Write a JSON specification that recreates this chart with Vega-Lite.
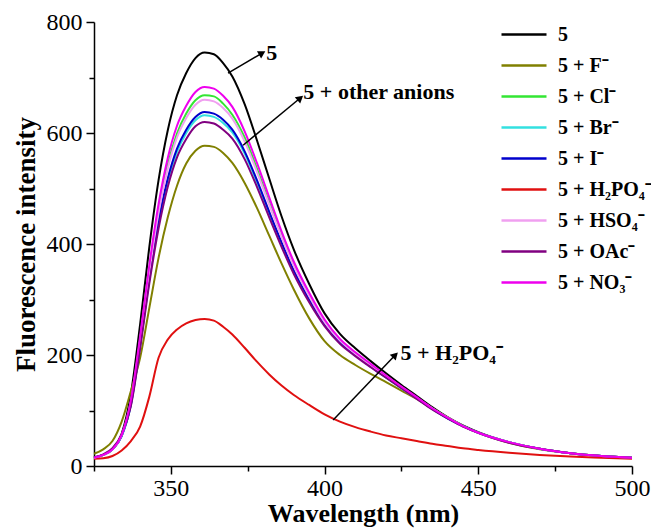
{
  "$schema": "https://vega.github.io/schema/vega-lite/v6.json",
  "width": 538,
  "height": 444,
  "autosize": {"type": "none"},
  "padding": {"left": 94, "top": 22, "right": 19, "bottom": 63},
  "background": "white",
  "config": {
    "view": {"stroke": null},
    "font": "Liberation Serif",
    "axis": {"labelFont": "Liberation Serif", "titleFont": "Liberation Serif"},
    "legend": {"labelFont": "Liberation Serif"},
    "text": {"font": "Liberation Serif"}
  },
  "datasets": {
    "spectra": [
      {"wl":325,"5":15,"5 + F⁻":22,"5 + Cl⁻":15,"5 + Br⁻":15,"5 + I⁻":15,"5 + H₂PO₄⁻":13,"5 + HSO₄⁻":15,"5 + OAc⁻":16,"5 + NO₃⁻":15},
      {"wl":328,"5":20,"5 + F⁻":30,"5 + Cl⁻":20,"5 + Br⁻":20,"5 + I⁻":20,"5 + H₂PO₄⁻":14,"5 + HSO₄⁻":20,"5 + OAc⁻":21,"5 + NO₃⁻":20},
      {"wl":331,"5":30,"5 + F⁻":45,"5 + Cl⁻":30,"5 + Br⁻":30,"5 + I⁻":30,"5 + H₂PO₄⁻":18,"5 + HSO₄⁻":30,"5 + OAc⁻":32,"5 + NO₃⁻":30},
      {"wl":334,"5":58,"5 + F⁻":80,"5 + Cl⁻":55,"5 + Br⁻":54,"5 + I⁻":54,"5 + H₂PO₄⁻":28,"5 + HSO₄⁻":55,"5 + OAc⁻":57,"5 + NO₃⁻":56},
      {"wl":337,"5":130,"5 + F⁻":135,"5 + Cl⁻":117,"5 + Br⁻":110,"5 + I⁻":111,"5 + H₂PO₄⁻":45,"5 + HSO₄⁻":115,"5 + OAc⁻":108,"5 + NO₃⁻":119},
      {"wl":340,"5":255,"5 + F⁻":195,"5 + Cl⁻":229,"5 + Br⁻":216,"5 + I⁻":218,"5 + H₂PO₄⁻":71,"5 + HSO₄⁻":226,"5 + OAc⁻":212,"5 + NO₃⁻":234},
      {"wl":343,"5":395,"5 + F⁻":285,"5 + Cl⁻":354,"5 + Br⁻":335,"5 + I⁻":338,"5 + H₂PO₄⁻":125,"5 + HSO₄⁻":350,"5 + OAc⁻":329,"5 + NO₃⁻":362},
      {"wl":346,"5":515,"5 + F⁻":375,"5 + Cl⁻":462,"5 + Br⁻":437,"5 + I⁻":441,"5 + H₂PO₄⁻":195,"5 + HSO₄⁻":456,"5 + OAc⁻":428,"5 + NO₃⁻":472},
      {"wl":349,"5":605,"5 + F⁻":448,"5 + Cl⁻":543,"5 + Br⁻":513,"5 + I⁻":518,"5 + H₂PO₄⁻":228,"5 + HSO₄⁻":536,"5 + OAc⁻":503,"5 + NO₃⁻":555},
      {"wl":352,"5":668,"5 + F⁻":505,"5 + Cl⁻":599,"5 + Br⁻":566,"5 + I⁻":572,"5 + H₂PO₄⁻":246,"5 + HSO₄⁻":592,"5 + OAc⁻":556,"5 + NO₃⁻":613},
      {"wl":355,"5":708,"5 + F⁻":545,"5 + Cl⁻":635,"5 + Br⁻":600,"5 + I⁻":606,"5 + H₂PO₄⁻":257,"5 + HSO₄⁻":627,"5 + OAc⁻":589,"5 + NO₃⁻":649},
      {"wl":358,"5":735,"5 + F⁻":568,"5 + Cl⁻":659,"5 + Br⁻":623,"5 + I⁻":629,"5 + H₂PO₄⁻":263,"5 + HSO₄⁻":651,"5 + OAc⁻":612,"5 + NO₃⁻":674},
      {"wl":361,"5":745,"5 + F⁻":577,"5 + Cl⁻":668,"5 + Br⁻":632,"5 + I⁻":638,"5 + H₂PO₄⁻":265,"5 + HSO₄⁻":660,"5 + OAc⁻":620,"5 + NO₃⁻":683},
      {"wl":364,"5":742,"5 + F⁻":575,"5 + Cl⁻":666,"5 + Br⁻":629,"5 + I⁻":635,"5 + H₂PO₄⁻":262,"5 + HSO₄⁻":657,"5 + OAc⁻":617,"5 + NO₃⁻":680},
      {"wl":367,"5":726,"5 + F⁻":564,"5 + Cl⁻":653,"5 + Br⁻":618,"5 + I⁻":624,"5 + H₂PO₄⁻":251,"5 + HSO₄⁻":645,"5 + OAc⁻":606,"5 + NO₃⁻":667},
      {"wl":370,"5":702,"5 + F⁻":546,"5 + Cl⁻":633,"5 + Br⁻":601,"5 + I⁻":606,"5 + H₂PO₄⁻":237,"5 + HSO₄⁻":626,"5 + OAc⁻":590,"5 + NO₃⁻":647},
      {"wl":374,"5":652,"5 + F⁻":510,"5 + Cl⁻":592,"5 + Br⁻":563,"5 + I⁻":567,"5 + H₂PO₄⁻":213,"5 + HSO₄⁻":585,"5 + OAc⁻":553,"5 + NO₃⁻":603},
      {"wl":378,"5":587,"5 + F⁻":465,"5 + Cl⁻":536,"5 + Br⁻":511,"5 + I⁻":515,"5 + H₂PO₄⁻":188,"5 + HSO₄⁻":530,"5 + OAc⁻":503,"5 + NO₃⁻":546},
      {"wl":382,"5":518,"5 + F⁻":415,"5 + Cl⁻":475,"5 + Br⁻":455,"5 + I⁻":458,"5 + H₂PO₄⁻":165,"5 + HSO₄⁻":471,"5 + OAc⁻":448,"5 + NO₃⁻":484},
      {"wl":386,"5":450,"5 + F⁻":365,"5 + Cl⁻":416,"5 + Br⁻":400,"5 + I⁻":403,"5 + H₂PO₄⁻":145,"5 + HSO₄⁻":413,"5 + OAc⁻":395,"5 + NO₃⁻":423},
      {"wl":390,"5":390,"5 + F⁻":318,"5 + Cl⁻":363,"5 + Br⁻":350,"5 + I⁻":352,"5 + H₂PO₄⁻":128,"5 + HSO₄⁻":360,"5 + OAc⁻":346,"5 + NO₃⁻":368},
      {"wl":395,"5":328,"5 + F⁻":266,"5 + Cl⁻":308,"5 + Br⁻":298,"5 + I⁻":300,"5 + H₂PO₄⁻":110,"5 + HSO₄⁻":306,"5 + OAc⁻":295,"5 + NO₃⁻":312},
      {"wl":400,"5":275,"5 + F⁻":225,"5 + Cl⁻":261,"5 + Br⁻":254,"5 + I⁻":255,"5 + H₂PO₄⁻":93,"5 + HSO₄⁻":259,"5 + OAc⁻":252,"5 + NO₃⁻":264},
      {"wl":405,"5":238,"5 + F⁻":200,"5 + Cl⁻":227,"5 + Br⁻":222,"5 + I⁻":223,"5 + H₂PO₄⁻":80,"5 + HSO₄⁻":226,"5 + OAc⁻":220,"5 + NO₃⁻":229},
      {"wl":410,"5":212,"5 + F⁻":182,"5 + Cl⁻":203,"5 + Br⁻":199,"5 + I⁻":200,"5 + H₂PO₄⁻":70,"5 + HSO₄⁻":202,"5 + OAc⁻":198,"5 + NO₃⁻":205},
      {"wl":415,"5":189,"5 + F⁻":166,"5 + Cl⁻":182,"5 + Br⁻":179,"5 + I⁻":179,"5 + H₂PO₄⁻":62,"5 + HSO₄⁻":181,"5 + OAc⁻":178,"5 + NO₃⁻":184},
      {"wl":420,"5":167,"5 + F⁻":151,"5 + Cl⁻":162,"5 + Br⁻":159,"5 + I⁻":160,"5 + H₂PO₄⁻":55,"5 + HSO₄⁻":161,"5 + OAc⁻":159,"5 + NO₃⁻":163},
      {"wl":425,"5":146,"5 + F⁻":136,"5 + Cl⁻":142,"5 + Br⁻":140,"5 + I⁻":141,"5 + H₂PO₄⁻":50,"5 + HSO₄⁻":142,"5 + OAc⁻":140,"5 + NO₃⁻":143},
      {"wl":430,"5":126,"5 + F⁻":121,"5 + Cl⁻":123,"5 + Br⁻":122,"5 + I⁻":122,"5 + H₂PO₄⁻":45,"5 + HSO₄⁻":123,"5 + OAc⁻":121,"5 + NO₃⁻":124},
      {"wl":435,"5":106,"5 + F⁻":104,"5 + Cl⁻":104,"5 + Br⁻":103,"5 + I⁻":103,"5 + H₂PO₄⁻":40,"5 + HSO₄⁻":104,"5 + OAc⁻":102,"5 + NO₃⁻":104},
      {"wl":440,"5":88,"5 + F⁻":87,"5 + Cl⁻":87,"5 + Br⁻":86,"5 + I⁻":86,"5 + H₂PO₄⁻":36,"5 + HSO₄⁻":87,"5 + OAc⁻":86,"5 + NO₃⁻":87},
      {"wl":445,"5":73,"5 + F⁻":72,"5 + Cl⁻":72,"5 + Br⁻":72,"5 + I⁻":72,"5 + H₂PO₄⁻":32,"5 + HSO₄⁻":72,"5 + OAc⁻":71,"5 + NO₃⁻":72},
      {"wl":450,"5":61,"5 + F⁻":60,"5 + Cl⁻":60,"5 + Br⁻":60,"5 + I⁻":60,"5 + H₂PO₄⁻":29,"5 + HSO₄⁻":60,"5 + OAc⁻":60,"5 + NO₃⁻":60},
      {"wl":460,"5":43,"5 + F⁻":42,"5 + Cl⁻":43,"5 + Br⁻":43,"5 + I⁻":43,"5 + H₂PO₄⁻":24,"5 + HSO₄⁻":43,"5 + OAc⁻":42,"5 + NO₃⁻":43},
      {"wl":470,"5":31,"5 + F⁻":30,"5 + Cl⁻":31,"5 + Br⁻":31,"5 + I⁻":31,"5 + H₂PO₄⁻":20,"5 + HSO₄⁻":31,"5 + OAc⁻":31,"5 + NO₃⁻":31},
      {"wl":480,"5":23,"5 + F⁻":23,"5 + Cl⁻":23,"5 + Br⁻":23,"5 + I⁻":23,"5 + H₂PO₄⁻":17,"5 + HSO₄⁻":23,"5 + OAc⁻":23,"5 + NO₃⁻":23},
      {"wl":490,"5":18,"5 + F⁻":18,"5 + Cl⁻":18,"5 + Br⁻":18,"5 + I⁻":18,"5 + H₂PO₄⁻":15,"5 + HSO₄⁻":18,"5 + OAc⁻":18,"5 + NO₃⁻":18},
      {"wl":500,"5":15,"5 + F⁻":15,"5 + Cl⁻":15,"5 + Br⁻":15,"5 + I⁻":15,"5 + H₂PO₄⁻":13,"5 + HSO₄⁻":15,"5 + OAc⁻":15,"5 + NO₃⁻":15}
    ],
    "arrows": [
      {"id": "a", "x": 368.6, "y": 708, "x2": 379.7, "y2": 744},
      {"id": "b", "x": 373.5, "y": 578, "x2": 392.1, "y2": 663},
      {"id": "c", "x": 402.8, "y": 83, "x2": 423, "y2": 200}
    ],
    "labels": [
      {"x": 381, "y": 744, "t": "5"},
      {"x": 393.1, "y": 674, "t": "5 + other anions"},
      {"x": 424.7, "y": 204, "t": "5 + H₂PO₄⁻"}
    ]
  },
  "layer": [
    {
      "data": {"name": "spectra"},
      "transform": [
        {"fold": ["5", "5 + F⁻", "5 + Cl⁻", "5 + Br⁻", "5 + I⁻", "5 + H₂PO₄⁻", "5 + HSO₄⁻", "5 + OAc⁻", "5 + NO₃⁻"], "as": ["series", "intensity"]}
      ],
      "mark": {"type": "line", "interpolate": "monotone", "strokeWidth": 2},
      "encoding": {
        "x": {
          "field": "wl", "type": "quantitative",
          "scale": {"domain": [325, 500], "nice": false, "zero": false},
          "axis": {
            "title": "Wavelength (nm)",
            "values": [325, 350, 375, 400, 425, 450, 475, 500],
            "labelExpr": "datum.value % 50 === 0 ? datum.label : ''",
            "tickSize": {"condition": {"test": "datum.value % 50 === 0", "value": 8}, "value": 5},
            "grid": false, "labelFlush": false, "labelOverlap": false,
            "domainColor": "black", "domainWidth": 1.5, "tickColor": "black", "tickWidth": 1.5,
            "labelFont": "Liberation Serif", "labelFontSize": 24, "labelColor": "black", "labelPadding": 2,
            "titleFont": "Liberation Serif", "titleFontSize": 26, "titleFontWeight": "bold", "titleColor": "black", "titlePadding": 0
          }
        },
        "y": {
          "field": "intensity", "type": "quantitative",
          "scale": {"domain": [0, 800], "nice": false},
          "axis": {
            "title": "Fluorescence intensity",
            "values": [0, 100, 200, 300, 400, 500, 600, 700, 800],
            "labelExpr": "datum.value % 200 === 0 ? datum.label : ''",
            "tickSize": {"condition": {"test": "datum.value % 200 === 0", "value": 8}, "value": 5},
            "grid": false, "labelFlush": false, "labelOverlap": false,
            "domainColor": "black", "domainWidth": 1.5, "tickColor": "black", "tickWidth": 1.5,
            "labelFont": "Liberation Serif", "labelFontSize": 24, "labelColor": "black", "labelPadding": 4,
            "titleFont": "Liberation Serif", "titleFontSize": 27, "titleFontWeight": "bold", "titleColor": "black", "titlePadding": 6
          }
        },
        "color": {
          "field": "series", "type": "nominal",
          "scale": {
            "domain": ["5", "5 + F⁻", "5 + Cl⁻", "5 + Br⁻", "5 + I⁻", "5 + H₂PO₄⁻", "5 + HSO₄⁻", "5 + OAc⁻", "5 + NO₃⁻"],
            "range": ["#000000", "#808000", "#33e633", "#33e0e0", "#0000cc", "#e01010", "#f0a0f0", "#800080", "#ee00ee"]
          },
          "legend": {
            "title": null, "orient": "none", "legendX": 406, "legendY": -3, "padding": 0,
            "symbolType": "stroke", "symbolSize": 2025, "symbolStrokeWidth": 2.5,
            "labelFont": "Liberation Serif", "labelFontWeight": "bold", "labelFontSize": 20, "labelColor": "black",
            "labelOffset": 10, "rowPadding": 0, "clipHeight": 31, "labelLimit": 200
          }
        }
      }
    },
    {
      "data": {"name": "arrows"},
      "mark": {"type": "rule", "color": "black", "strokeWidth": 1.5},
      "encoding": {
        "x": {"field": "x", "type": "quantitative"},
        "y": {"field": "y", "type": "quantitative"},
        "x2": {"field": "x2"},
        "y2": {"field": "y2"}
      }
    },
    {
      "data": {"name": "arrows"},
      "transform": [{"filter": "datum.id === 'a'"}],
      "mark": {"type": "point", "shape": "triangle-up", "filled": true, "color": "black", "opacity": 1, "size": 70, "angle": 60},
      "encoding": {"x": {"field": "x2", "type": "quantitative"}, "y": {"field": "y2", "type": "quantitative"}}
    },
    {
      "data": {"name": "arrows"},
      "transform": [{"filter": "datum.id === 'b'"}],
      "mark": {"type": "point", "shape": "triangle-up", "filled": true, "color": "black", "opacity": 1, "size": 70, "angle": 50},
      "encoding": {"x": {"field": "x2", "type": "quantitative"}, "y": {"field": "y2", "type": "quantitative"}}
    },
    {
      "data": {"name": "arrows"},
      "transform": [{"filter": "datum.id === 'c'"}],
      "mark": {"type": "point", "shape": "triangle-up", "filled": true, "color": "black", "opacity": 1, "size": 70, "angle": 44},
      "encoding": {"x": {"field": "x2", "type": "quantitative"}, "y": {"field": "y2", "type": "quantitative"}}
    },
    {
      "data": {"name": "labels"},
      "mark": {"type": "text", "align": "left", "baseline": "middle", "font": "Liberation Serif", "fontWeight": "bold", "fontSize": 22, "color": "black"},
      "encoding": {
        "x": {"field": "x", "type": "quantitative"},
        "y": {"field": "y", "type": "quantitative"},
        "text": {"field": "t"}
      }
    }
  ]
}
